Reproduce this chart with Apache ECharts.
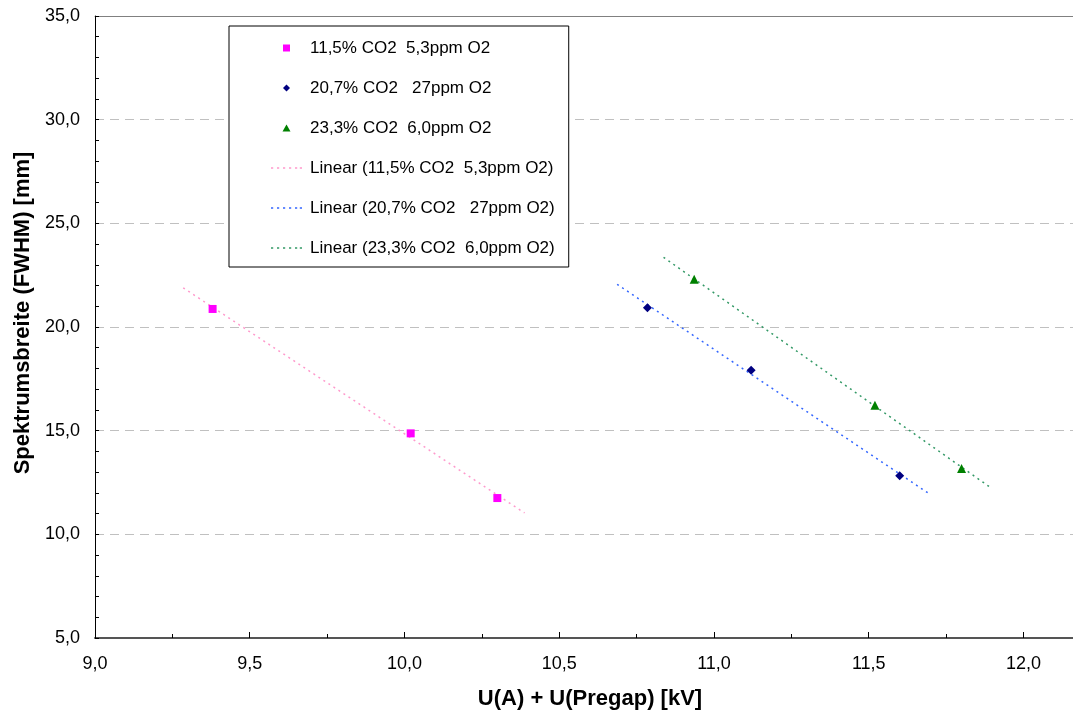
<!DOCTYPE html>
<html>
<head>
<meta charset="utf-8">
<script src="https://cdn.jsdelivr.net/npm/echarts@6/dist/echarts.min.js"></script>
<style>
  html, body { margin: 0; padding: 0; background: #fff; }
  #main { width: 1073px; height: 717px; }
</style>
</head>
<body>
<div id="main"></div>
<script>
// series names (legend order)
var names = ['11,5% CO2  5,3ppm O2', '20,7% CO2   27ppm O2', '23,3% CO2  6,0ppm O2'];
var trendNames = names.map(function (n) { return 'Linear (' + n + ')'; });

// measured points: U(A)+U(Pregap) [kV] and FWHM [mm]
var xPink = [9.38, 10.02, 10.30];
var yPink = [20.87, 14.87, 11.75];
var xBlue = [10.785, 11.12, 11.60];
var yBlue = [20.93, 17.92, 12.82];
var xGreen = [10.936, 11.52, 11.80];
var yGreen = [22.30, 16.23, 13.18];

// linear trend line endpoints
var trendPinkX = [9.285, 10.388];
var trendPinkY = [21.89, 11.03];
var trendBlueX = [10.687, 11.694];
var trendBlueY = [22.06, 11.97];
var trendGreenX = [10.837, 11.899];
var trendGreenY = [23.36, 12.20];

function pairs(xs, ys) {
  return xs.map(function (x, i) { return [x, ys[i]]; });
}
function comma(v) {
  return v.toFixed(1).replace('.', ',');
}

// legend icons: small marker centred in a 31x8 box (corner points keep the box size)
var box = 'M0,0L0,0M31,8L31,8';
var iconSquare = 'path://' + box + 'M12,0.5L19,0.5L19,7.5L12,7.5Z';
var iconDiamond = 'path://' + box + 'M15.5,0.5L19,4L15.5,7.5L12,4Z';
var iconTriangle = 'path://' + box + 'M15.5,0.5L19.5,7.5L11.5,7.5Z';
var iconDots = 'path://' + box +
  'M0,3.3h2.2v1.4h-2.2Z M6,3.3h2.2v1.4h-2.2Z M12,3.3h2.2v1.4h-2.2Z' +
  'M18,3.3h2.2v1.4h-2.2Z M24,3.3h2.2v1.4h-2.2Z M28.8,3.3h2.2v1.4h-2.2Z';

var chart = echarts.init(document.getElementById('main'));
var font = 'Liberation Sans, Arial, sans-serif';

var option = {
  backgroundColor: '#fff',
  animation: false,
  grid: { left: 95, top: 16, right: 0, bottom: 79 },
  legend: {
    data: [
      { name: names[0], icon: iconSquare },
      { name: names[1], icon: iconDiamond },
      { name: names[2], icon: iconTriangle },
      { name: trendNames[0], icon: iconDots },
      { name: trendNames[1], icon: iconDots },
      { name: trendNames[2], icon: iconDots }
    ],
    orient: 'vertical',
    left: 229,
    top: 26,
    padding: [12, 14, 9, 42],
    itemGap: 20,
    itemWidth: 31,
    itemHeight: 8,
    backgroundColor: '#fff',
    borderColor: '#000',
    borderWidth: 1,
    borderRadius: 0,
    textStyle: { fontFamily: font, fontSize: 17, color: '#000', lineHeight: 20, padding: [0, 0, 0, 3] }
  },
  xAxis: [
    {
      type: 'value',
      min: 9,
      max: 12.16,
      interval: 0.5,
      name: 'U(A) + U(Pregap) [kV]',
      nameLocation: 'middle',
      nameGap: 50,
      nameTextStyle: { fontFamily: font, fontSize: 22, fontWeight: 'bold', color: '#000', padding: [0, 0, 0, 12] },
      axisLine: { show: true, lineStyle: { color: '#555', width: 2 } },
      axisTick: { show: true, inside: true, length: 6, lineStyle: { color: '#000' } },
      minorTick: { show: true, splitNumber: 2, length: 4, lineStyle: { color: '#000' } },
      axisLabel: {
        showMaxLabel: false,
        margin: 17,
        fontFamily: font,
        fontSize: 18,
        color: '#000',
        formatter: function (v) { return comma(v); }
      },
      splitLine: { show: false }
    },
    {
      type: 'value',
      position: 'top',
      min: 9,
      max: 12.16,
      axisLine: { show: true, lineStyle: { color: '#808080', width: 1 } },
      axisTick: { show: false },
      axisLabel: { show: false },
      splitLine: { show: false }
    }
  ],
  yAxis: {
    type: 'value',
    min: 5,
    max: 35,
    interval: 5,
    name: 'Spektrumsbreite (FWHM) [mm]',
    nameLocation: 'middle',
    nameGap: 60,
    nameTextStyle: { fontFamily: font, fontSize: 22, fontWeight: 'bold', color: '#000', padding: [0, 0, 0, 28] },
    axisLine: { show: true, lineStyle: { color: '#000', width: 1 } },
    axisTick: { show: true, inside: true, length: 4, lineStyle: { color: '#000' } },
    minorTick: { show: true, splitNumber: 5, length: 4, lineStyle: { color: '#000' } },
    axisLabel: {
      margin: 15,
      fontFamily: font,
      fontSize: 18,
      color: '#000',
      formatter: function (v) { return comma(v); }
    },
    splitLine: { show: true, lineStyle: { color: '#c0c0c0', type: [9, 6], width: 1 } }
  },
  series: [
    {
      name: names[0], type: 'scatter', symbol: 'rect', symbolSize: 8,
      itemStyle: { color: '#ff00ff', opacity: 1 }, data: pairs(xPink, yPink), z: 5
    },
    {
      name: names[1], type: 'scatter', symbol: 'diamond', symbolSize: 9,
      itemStyle: { color: '#000080', opacity: 1 }, data: pairs(xBlue, yBlue), z: 5
    },
    {
      name: names[2], type: 'scatter', symbol: 'triangle', symbolSize: 9,
      itemStyle: { color: '#008000', opacity: 1 }, data: pairs(xGreen, yGreen), z: 5
    },
    {
      name: trendNames[0], type: 'line', symbol: 'none', data: pairs(trendPinkX, trendPinkY),
      itemStyle: { color: '#ff99cc' }, lineStyle: { color: '#ff99cc', width: 1.5, type: [2, 4] }
    },
    {
      name: trendNames[1], type: 'line', symbol: 'none', data: pairs(trendBlueX, trendBlueY),
      itemStyle: { color: '#3366ff' }, lineStyle: { color: '#3366ff', width: 1.5, type: [2, 4] }
    },
    {
      name: trendNames[2], type: 'line', symbol: 'none', data: pairs(trendGreenX, trendGreenY),
      itemStyle: { color: '#339966' }, lineStyle: { color: '#339966', width: 1.5, type: [2, 4] }
    }
  ]
};

chart.setOption(option);
</script>
</body>
</html>
